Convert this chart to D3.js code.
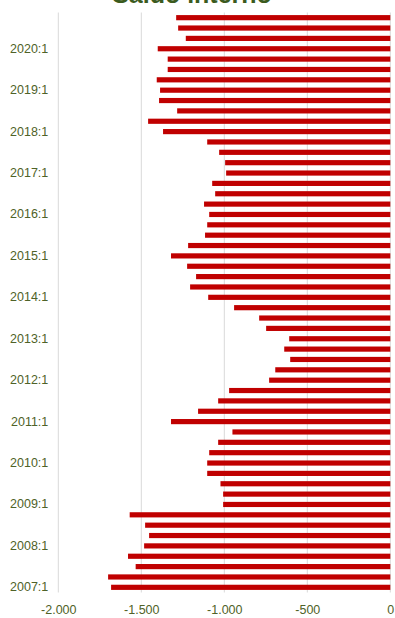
<!DOCTYPE html>
<html><head><meta charset="utf-8">
<script src="https://cdn.jsdelivr.net/npm/d3@7"></script>
<style>html,body{margin:0;padding:0;background:#fff;overflow:hidden}</style>
</head><body>
<script>
const title = "Saldo interno";
// quarters from 2007:1 to 2020:4
const years = [2007,2008,2009,2010,2011,2012,2013,2014,2015,2016,2017,2018,2019,2020];
const quarters = years.flatMap(y => [1,2,3,4].map(q => `${y}:${q}`));
const values = [
  -1682,-1700,-1534,-1580,   // 2007
  -1483,-1453,-1477,-1570,   // 2008
  -1007,-1007,-1023,-1103,   // 2009
  -1103,-1091,-1037,-951,    // 2010
  -1321,-1158,-1037,-971,    // 2011
  -730,-693,-603,-639,       // 2012
  -609,-748,-790,-941,       // 2013
  -1097,-1206,-1170,-1224,   // 2014
  -1321,-1218,-1116,-1103,   // 2015
  -1091,-1122,-1055,-1073,   // 2016
  -989,-995,-1031,-1103,     // 2017
  -1369,-1459,-1284,-1393,   // 2018
  -1387,-1407,-1341,-1341,   // 2019
  -1401,-1232,-1278,-1290    // 2020
];
const xTicks = [-2000,-1500,-1000,-500,0];

const W = 395, H = 618;
const mLeft = 58.3, mRight = 390.3, mTop = 12.5, mBottom = 592.5;
const svg = d3.select("body").append("svg").attr("width", W).attr("height", H);

const x = d3.scaleLinear().domain([-2000, 0]).range([mLeft, mRight]);
const y = d3.scaleBand().domain(quarters.slice().reverse()).range([mTop, mBottom]).paddingInner(0.5).paddingOuter(0.25);

// gridlines
svg.append("g").selectAll("line").data(xTicks).join("line")
  .attr("x1", d => x(d)).attr("x2", d => x(d))
  .attr("y1", mTop).attr("y2", mBottom)
  .attr("stroke", "#d9d9d9").attr("stroke-width", 1);

// bars
svg.append("g").selectAll("rect").data(quarters.map((q,i)=>({q, v: values[i]}))).join("rect")
  .attr("x", d => x(d.v)).attr("width", d => x(0) - x(d.v))
  .attr("y", d => y(d.q)).attr("height", y.bandwidth())
  .attr("fill", "#c00000");

const fontFam = "'Liberation Sans', Arial, sans-serif";
// y labels
const yAxis = d3.axisLeft(y).tickValues(quarters.filter(q => q.endsWith(":1"))).tickSize(0).tickPadding(0);
const gy = svg.append("g").attr("transform", `translate(${mLeft - 10},0)`).call(yAxis);
gy.select(".domain").remove();
gy.selectAll("text").attr("fill", "#4f6228").attr("font-size", "12.5px").attr("font-family", fontFam);

// x labels
const xAxis = d3.axisBottom(x).tickValues(xTicks).tickSize(0).tickPadding(0)
  .tickFormat(d => d3.format(",")(d).replace(/,/g, ".").replace("−","-"));
const gx = svg.append("g").attr("transform", `translate(0,${mBottom + 13})`).call(xAxis);
gx.select(".domain").remove();
gx.selectAll("text").attr("fill", "#4f6228").attr("font-size", "12.5px").attr("font-family", fontFam);

// title (cut off at top, as in the reference)
svg.append("text").attr("x", 192).attr("y", 3).attr("text-anchor", "middle")
  .attr("font-family", fontFam).attr("font-weight", "bold").attr("font-size", "25px")
  .attr("fill", "#3b5b1e").text(title);
</script>
</body></html>
